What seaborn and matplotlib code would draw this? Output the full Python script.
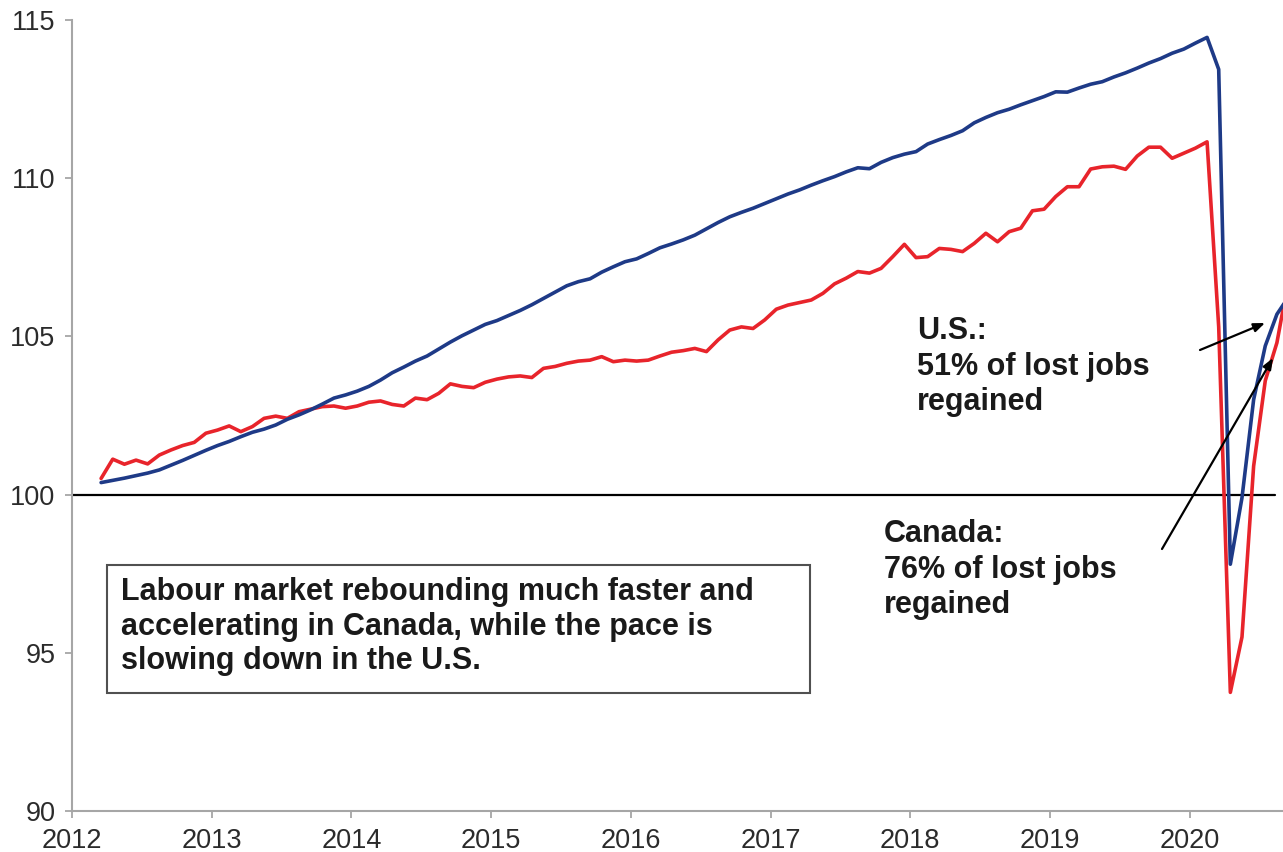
import numpy as np
import pandas as pd
import matplotlib
matplotlib.use("Agg")
import matplotlib.pyplot as plt
from matplotlib.patches import Rectangle
import seaborn as sns

# Monthly data, March 2012 .. September 2020 (index, Feb 2012 = 100)
start_month = "2012-03"
end_month = "2020-09"

us_values = [
    # 2012 Mar-Dec
    100.38, 100.45, 100.52, 100.60, 100.68, 100.78, 100.93, 101.08, 101.24, 101.40,
    # 2013
    101.55, 101.68, 101.83, 101.97, 102.07, 102.20, 102.38, 102.52, 102.68, 102.86, 103.05, 103.15,
    # 2014
    103.27, 103.42, 103.62, 103.85, 104.03, 104.22, 104.38, 104.60, 104.82, 105.02, 105.20, 105.38,
    # 2015
    105.50, 105.66, 105.82, 106.00, 106.20, 106.40, 106.60, 106.73, 106.82, 107.03, 107.20, 107.36,
    # 2016
    107.45, 107.62, 107.80, 107.92, 108.05, 108.20, 108.40, 108.60, 108.78, 108.92, 109.05, 109.20,
    # 2017
    109.35, 109.50, 109.63, 109.78, 109.92, 110.05, 110.20, 110.33, 110.30, 110.50, 110.65, 110.76,
    # 2018
    110.84, 111.08, 111.22, 111.35, 111.50, 111.75, 111.92, 112.07, 112.18, 112.32, 112.45, 112.58,
    # 2019
    112.73, 112.72, 112.85, 112.97, 113.05, 113.20, 113.33, 113.48, 113.64, 113.78, 113.95, 114.08,
    # 2020 Jan-Sep
    114.27, 114.45, 113.44, 97.80, 99.90, 103.00, 104.70, 105.70, 106.25,
]

canada_values = [
    # 2012 Mar-Dec
    100.51, 101.12, 100.96, 101.09, 100.97, 101.25, 101.41, 101.55, 101.65, 101.94,
    # 2013
    102.04, 102.17, 101.99, 102.15, 102.41, 102.48, 102.41, 102.62, 102.70, 102.78, 102.80, 102.73,
    # 2014
    102.80, 102.92, 102.96, 102.85, 102.80, 103.05, 103.00, 103.20, 103.50, 103.42, 103.38, 103.55,
    # 2015
    103.65, 103.72, 103.75, 103.70, 103.99, 104.05, 104.15, 104.22, 104.25, 104.36, 104.20, 104.25,
    # 2016
    104.22, 104.25, 104.38, 104.50, 104.55, 104.62, 104.52, 104.89, 105.20, 105.30, 105.25, 105.52,
    # 2017
    105.86, 105.99, 106.07, 106.15, 106.36, 106.66, 106.84, 107.05, 107.00, 107.15, 107.52, 107.91,
    # 2018
    107.49, 107.52, 107.78, 107.75, 107.68, 107.94, 108.26, 107.99, 108.31, 108.42, 108.97, 109.02,
    # 2019
    109.42, 109.73, 109.73, 110.29, 110.36, 110.38, 110.28, 110.70, 110.98, 110.98, 110.63, 110.79,
    # 2020 Jan-Sep
    110.95, 111.15, 105.30, 93.75, 95.50, 100.90, 103.60, 104.80, 106.80,
]

series_names = ["U.S.", "Canada"]
series_colors = ["#1E3A87", "#E8242B"]
y_ticks = [90, 95, 100, 105, 110, 115]
x_ticks = [2012, 2013, 2014, 2015, 2016, 2017, 2018, 2019, 2020]

box_text = ("Labour market rebounding much faster and\n"
            "accelerating in Canada, while the pace is\n"
            "slowing down in the U.S.")
us_note = "U.S.:\n51% of lost jobs\nregained"
canada_note = "Canada:\n76% of lost jobs\nregained"

# ---- build long-form frame (time plotted at mid-month, in fractional years)
months = pd.date_range(start_month, end_month, freq="MS")
t = months.year + (months.month - 0.5) / 12.0
df = pd.concat([
    pd.DataFrame({"t": t, "value": us_values, "series": series_names[0]}),
    pd.DataFrame({"t": t, "value": canada_values, "series": series_names[1]}),
], ignore_index=True)

sns.set_theme(style="white")
plt.rcParams["font.family"] = ["Liberation Sans", "DejaVu Sans"]

fig = plt.figure(figsize=(12.83, 8.52), dpi=100)
ax = fig.add_axes([72 / 1283, 1 - 811 / 852, 1 - 72 / 1283, (811 - 20) / 852])

# reference line at 100
ax.axhline(100, xmin=0, xmax=0.993, color="black", lw=1.6, zorder=1)

sns.lineplot(data=df, x="t", y="value", hue="series", hue_order=series_names[::-1],
             palette=dict(zip(series_names, series_colors)), linewidth=2.6,
             legend=False, ax=ax, zorder=3, clip_on=True)

ax.set_xlim(2012, 2012 + 1211 / 139.7)
ax.set_ylim(90, 115)
ax.set_xticks(x_ticks)
ax.set_xticklabels([str(x) for x in x_ticks])
ax.set_yticks(y_ticks)
ax.set_yticklabels([str(y) for y in y_ticks])
ax.set_xlabel("")
ax.set_ylabel("")

for side in ["top", "right"]:
    ax.spines[side].set_visible(False)
for side in ["left", "bottom"]:
    ax.spines[side].set_color("#A6A6A6")
    ax.spines[side].set_linewidth(1.5)

ax.tick_params(axis="both", which="major", direction="out", length=5, width=1.3,
               color="#A6A6A6", labelsize=19.5, labelcolor="#2b2b2b", pad=7,
               left=True, bottom=True)

text_kw = dict(ha="left", va="top", fontsize=22, fontweight="bold", color="#1a1a1a",
               zorder=5)

# text box
ax.add_patch(Rectangle(((107 - 72) / 1211, (811 - 693) / 791),
                       (810 - 107) / 1211, (693 - 565) / 791,
                       transform=ax.transAxes, fill=True, facecolor="white",
                       edgecolor="#505050", lw=1.5, zorder=4))
ax.text((121 - 72) / 1211, (811 - 577) / 791, box_text, transform=ax.transAxes,
        linespacing=1.2, **text_kw)

# annotations
ax.text((917 - 72) / 1211, (811 - 316) / 791, us_note, transform=ax.transAxes,
        linespacing=1.24, **text_kw)
ax.text((884 - 72) / 1211, (811 - 519) / 791, canada_note, transform=ax.transAxes,
        linespacing=1.24, **text_kw)

arrow_style = dict(arrowstyle="-|>,head_length=0.55,head_width=0.22", color="black",
                   lw=1.6, shrinkA=0, shrinkB=0)
ax.annotate("", xy=((1265 - 72) / 1211, (811 - 323) / 791),
            xytext=((1200 - 72) / 1211, (811 - 350) / 791),
            xycoords="axes fraction", textcoords="axes fraction",
            arrowprops=arrow_style, zorder=6)
ax.annotate("", xy=((1273 - 72) / 1211, (811 - 358) / 791),
            xytext=((1162 - 72) / 1211, (811 - 549) / 791),
            xycoords="axes fraction", textcoords="axes fraction",
            arrowprops=arrow_style, zorder=6)

fig.savefig("out.png", dpi=100)
